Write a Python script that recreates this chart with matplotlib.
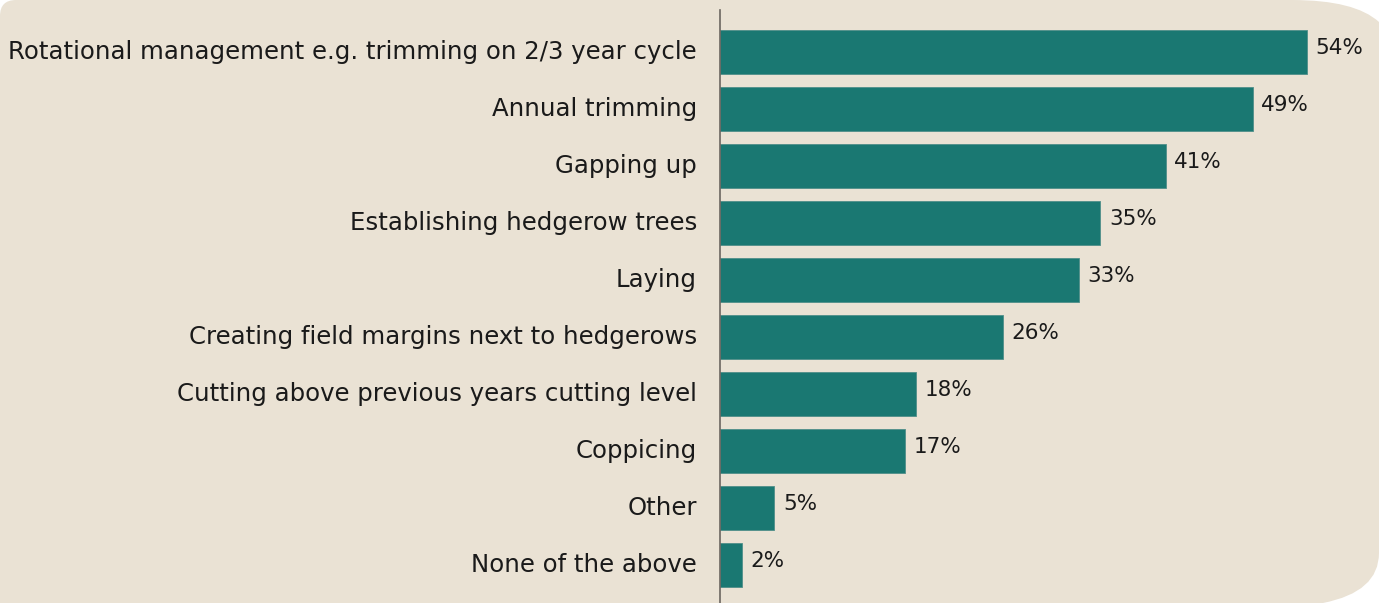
import matplotlib.pyplot as plt
from matplotlib.path import Path
from matplotlib.patches import PathPatch

plt.rcParams['font.family'] = ['DejaVu Sans']

# data
labels = ['Rotational management e.g. trimming on 2/3 year cycle',
          'Annual trimming',
          'Gapping up',
          'Establishing hedgerow trees',
          'Laying',
          'Creating field margins next to hedgerows',
          'Cutting above previous years cutting level',
          'Coppicing',
          'Other',
          'None of the above']
values = [54, 49, 41, 35, 33, 26, 18, 17, 5, 2]

W, H = 1379, 603
bg = '#eae2d4'
bar_col = '#1a7872'

fig = plt.figure(figsize=(W / 100, H / 100), dpi=100)
fig.patch.set_facecolor('white')

# beige panel with rounded corners, drawn in pixel coords
back = fig.add_axes([0, 0, 1, 1])
back.set_xlim(0, W)
back.set_ylim(H, 0)
back.axis('off')
verts = [(0, 16), (0, 0), (16, 0),
         (1292, 0), (1355, 0), (1379, 22),
         (1379, 553), (1379, 592), (1323, 603),
         (0, 603), (0, 16)]
codes = [Path.MOVETO, Path.CURVE3, Path.CURVE3,
         Path.LINETO, Path.CURVE3, Path.CURVE3,
         Path.LINETO, Path.CURVE3, Path.CURVE3,
         Path.LINETO, Path.CLOSEPOLY]
back.add_patch(PathPatch(Path(verts, codes), facecolor=bg, edgecolor='none'))

# chart axes: left edge at the vertical line
px_per = 10.87
x0, ytop = 720, 10
ax = fig.add_axes([x0 / W, 0, 1 - x0 / W, 1 - ytop / H])
ax.patch.set_alpha(0)
ypos = list(range(len(labels)))
ax.barh(ypos, values, height=0.78, color=bar_col, edgecolor='#4f8f89', linewidth=0.6)
ax.set_xlim(0, (W - x0) / px_per)
ax.set_ylim((H - 52) / 57, (ytop - 52) / 57)

for s in ['top', 'right', 'bottom']:
    ax.spines[s].set_visible(False)
ax.spines['left'].set_color('#6b6660')
ax.spines['left'].set_linewidth(1.2)
ax.set_xticks([])
ax.set_yticks(ypos)
ax.set_yticklabels(labels, fontsize=17.6, color='#1a1a1a')
ax.tick_params(axis='y', length=0, pad=16.5)
for t in ax.get_yticklabels():
    t.set_va('center')

for y, v in zip(ypos, values):
    ax.text(v + 0.8, y - 0.07, f'{v}%', va='center', ha='left',
            fontsize=15.5, color='#1a1a1a')

fig.savefig('out.png', dpi=100, facecolor='white')
